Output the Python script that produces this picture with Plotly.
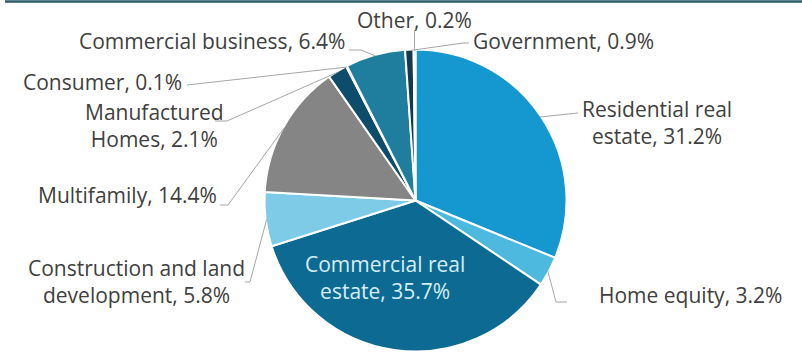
import math
import plotly.graph_objects as go

# Loan portfolio composition (percent of total)
categories = [
    "Residential real estate",
    "Home equity",
    "Commercial real estate",
    "Construction and land development",
    "Multifamily",
    "Manufactured Homes",
    "Consumer",
    "Commercial business",
    "Government",
    "Other",
]
shares = [31.2, 3.2, 35.7, 5.8, 14.4, 2.1, 0.1, 6.4, 0.9, 0.2]
label_lines = [
    ["Residential real", "estate, 31.2%"],
    ["Home equity, 3.2%"],
    ["Commercial real", "estate, 35.7%"],
    ["Construction and land", "development, 5.8%"],
    ["Multifamily, 14.4%"],
    ["Manufactured", "Homes, 2.1%"],
    ["Consumer, 0.1%"],
    ["Commercial business, 6.4%"],
    ["Government, 0.9%"],
    ["Other, 0.2%"],
]
slice_colors = [
    "#1597CF", "#4EB9DF", "#0D6A93", "#7DCBE6", "#858585",
    "#0D4C6A", "#2E7EA0", "#1F7E9E", "#14394D", "#3A8FB0",
]

# ---- page geometry (pixels) ----
W, H = 802, 352
CX, CY, R = 415.5, 200.5, 151.0

def px(x):
    return x / W

def py(y):
    return 1 - y / H

# label placement: (x, y, xanchor, text colour, leader elbow points from label side)
label_layout = [
    (657, 123, "center", "#404040", [(578, 113)]),
    (597, 295, "left", "#404040", [(567, 302), (556, 302)]),
    (385, 277, "center", "#D6EEF8", None),
    (136, 281, "center", "#404040", [(245, 282), (250, 282)]),
    (219, 195, "right", "#404040", [(220, 205), (228, 205)]),
    (154, 126, "center", "#404040", [(215, 121), (227, 121)]),
    (184, 82, "right", "#404040", [(187, 85)]),
    (347, 41, "right", "#404040", [(349, 50), (361, 50)]),
    (471, 41, "left", "#404040", [(469, 43), (463, 43)]),
    (414, 20, "center", "#404040", "vertical"),
]

fig = go.Figure(
    go.Pie(
        labels=categories,
        values=shares,
        sort=False,
        direction="clockwise",
        rotation=0,
        textinfo="none",
        hoverinfo="label+percent",
        marker=dict(colors=slice_colors, line=dict(color="white", width=2)),
        domain=dict(
            x=[px(CX - R), px(CX + R)],
            y=[py(CY + R), py(CY - R)],
        ),
        showlegend=False,
    )
)

# rim point at the middle angle of each slice
total = sum(shares)
cum = 0.0
rim_points = []
for v in shares:
    mid = (cum + v / 2) / total * 2 * math.pi
    cum += v
    r_edge = R - 1
    rim_points.append((CX + r_edge * math.sin(mid), CY - r_edge * math.cos(mid)))

shapes = [
    dict(type="line", xref="paper", yref="paper",
         x0=px(5), x1=1, y0=py(1.5), y1=py(1.5),
         line=dict(color="#2B5A69", width=2.5)),
]
annotations = []
for lines, (lx, ly, anchor, color, leader), rim in zip(label_lines, label_layout, rim_points):
    annotations.append(dict(
        xref="paper", yref="paper", x=px(lx), y=py(ly),
        xanchor=anchor, yanchor="middle", align="center",
        text="<br>".join(lines), showarrow=False,
        font=dict(family="Open Sans", size=21, color=color),
    ))
    if leader is None:
        continue
    if leader == "vertical":
        pts = [(rim[0], 30), rim]
    else:
        pts = list(leader) + [rim]
    path = "M " + " L ".join(f"{px(x):.5f},{py(y):.5f}" for x, y in pts)
    shapes.append(dict(type="path", xref="paper", yref="paper", path=path,
                       line=dict(color="#A6A6A6", width=1)))

fig.update_layout(
    width=W, height=H,
    margin=dict(l=0, r=0, t=0, b=0),
    paper_bgcolor="white", plot_bgcolor="white",
    shapes=shapes, annotations=annotations,
)

fig.write_html("out.html", config={"displayModeBar": False})
